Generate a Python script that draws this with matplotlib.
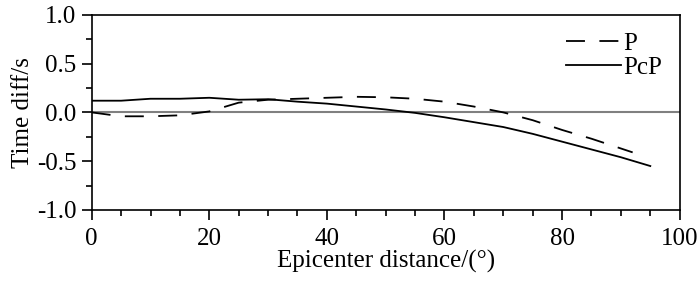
import matplotlib
matplotlib.use("Agg")
import matplotlib.pyplot as plt
from matplotlib.ticker import MultipleLocator

plt.rcParams['font.family'] = ['Liberation Serif', 'DejaVu Serif']

# data
dist_p = [0, 5, 10, 15, 20, 25, 30, 35, 40, 45, 50, 55, 60, 65, 70, 75, 80, 85, 90, 92]
p_diff = [0.0, -0.04, -0.04, -0.03, 0.01, 0.10, 0.13, 0.14, 0.15, 0.16, 0.155, 0.14,
          0.11, 0.06, 0.0, -0.08, -0.18, -0.27, -0.37, -0.41]
dist_pcp = [0, 5, 10, 15, 20, 25, 30, 35, 40, 45, 50, 55, 60, 65, 70, 75, 80, 85, 90, 95]
pcp_diff = [0.12, 0.12, 0.14, 0.14, 0.15, 0.13, 0.135, 0.11, 0.09, 0.06, 0.03, -0.005,
            -0.05, -0.10, -0.15, -0.22, -0.30, -0.38, -0.46, -0.55]

fig = plt.figure(figsize=(7, 2.81), dpi=100)
ax = fig.add_axes([0.131, 0.253, 0.84, 0.694])

ax.axhline(0, color='#808080', lw=1.5, zorder=1)
ax.plot(dist_p, p_diff, color='black', lw=1.3, dashes=(10.5, 8), label='P')
ax.plot(dist_pcp, pcp_diff, color='black', lw=1.3, label='PcP')

ax.set_xlim(0, 100)
ax.set_ylim(-1.0, 1.0)
ax.xaxis.set_major_locator(MultipleLocator(20))
ax.xaxis.set_minor_locator(MultipleLocator(5))
ax.yaxis.set_major_locator(MultipleLocator(0.5))
ax.yaxis.set_minor_locator(MultipleLocator(0.25))
ax.yaxis.set_major_formatter(plt.FuncFormatter(lambda v, p: '%.1f' % v))
ax.tick_params(which='both', direction='out', top=False, right=False,
               labelsize=18, width=1.2, pad=4)
ax.tick_params(axis='x', which='both', pad=6)
ax.tick_params(which='major', length=7)
ax.tick_params(which='minor', length=4)
for s in ax.spines.values():
    s.set_linewidth(1.2)

ax.set_xlabel('Epicenter distance/(°)', fontsize=18, labelpad=0)
ax.set_ylabel('Time diff/s', fontsize=18, labelpad=2)

ax.legend(loc='upper right', frameon=False, fontsize=18, handlelength=2.2,
          handletextpad=0.1, labelspacing=0.05, borderaxespad=0.3)

plt.savefig('out.png', dpi=100)
